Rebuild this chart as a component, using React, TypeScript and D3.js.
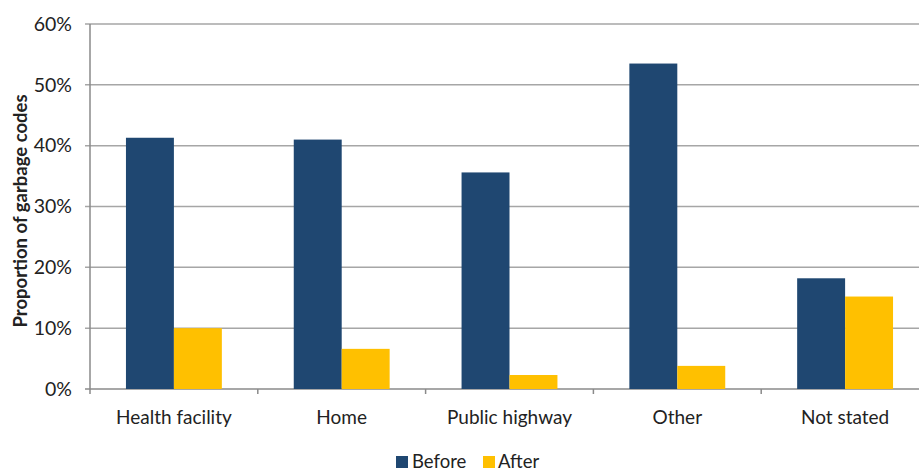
import React from "react";
import * as d3 from "d3";

const categories = ["Health facility", "Home", "Public highway", "Other", "Not stated"];
const seriesNames = ["Before", "After"];
const beforeValues = [41.3, 41.0, 35.6, 53.5, 18.2];
const afterValues = [10.0, 6.6, 2.3, 3.8, 15.2];
const yTicks = [0, 10, 20, 30, 40, 50, 60];
const colors = ["#1F4771", "#FFC000"];

const W = 919;
const H = 471;
const left = 90;
const right = 929;
const top = 24;
const bottom = 389;
const FONT = "Lato, 'Open Sans', sans-serif";

export default function App() {
  const x = d3.scaleBand<string>().domain(categories).range([left, right]).paddingInner(0).paddingOuter(0);
  const x1 = d3
    .scaleBand<string>()
    .domain(seriesNames)
    .range([0, x.bandwidth()])
    .paddingInner(0)
    .paddingOuter(0.75);
  const y = d3.scaleLinear().domain([0, 60]).range([bottom, top]);
  const series = [beforeValues, afterValues];
  const boundaries = categories.map((c) => x(c) as number).concat([right]);

  return (
    <svg width={W} height={H} style={{ position: "absolute", left: 0, top: 0, background: "#fff" }}>
      {yTicks.map((t) => (
        <g key={t}>
          <line x1={left - 5} x2={W} y1={y(t)} y2={y(t)} stroke={t === 0 ? "#8a8a8a" : "#a6a6a6"} strokeWidth={1.5} />
          <text x={72} y={y(t)} dy="0.35em" textAnchor="end" fontFamily={FONT} fontSize={19.5} fill="#222">
            {t}%
          </text>
        </g>
      ))}
      <line x1={left} x2={left} y1={top} y2={bottom} stroke="#8a8a8a" strokeWidth={1.5} />
      {boundaries.map((b, i) => (
        <line key={i} x1={b} x2={b} y1={bottom} y2={bottom + 5} stroke="#8a8a8a" strokeWidth={1.5} />
      ))}
      {categories.map((c, ci) =>
        seriesNames.map((s, si) => {
          const v = series[si][ci];
          return (
            <rect
              key={c + s}
              x={(x(c) as number) + (x1(s) as number)}
              y={y(v)}
              width={x1.bandwidth()}
              height={y(0) - y(v)}
              fill={colors[si]}
            />
          );
        })
      )}
      {categories.map((c) => (
        <text
          key={c}
          x={(x(c) as number) + x.bandwidth() / 2}
          y={424}
          textAnchor="middle"
          fontFamily={FONT}
          fontSize={19}
          fill="#222"
        >
          {c}
        </text>
      ))}
      <text
        transform={`translate(27,211) rotate(-90)`}
        textAnchor="middle"
        fontFamily={FONT}
        fontSize={18.5}
        fontWeight="bold"
        fill="#222"
      >
        Proportion of garbage codes
      </text>
      <g>
        <rect x={396} y={456} width={12} height={12} fill={colors[0]} />
        <text x={412} y={468} fontFamily={FONT} fontSize={18.5} fill="#222">Before</text>
        <rect x={483} y={456} width={12} height={12} fill={colors[1]} />
        <text x={498} y={468} fontFamily={FONT} fontSize={18.5} fill="#222">After</text>
      </g>
    </svg>
  );
}
